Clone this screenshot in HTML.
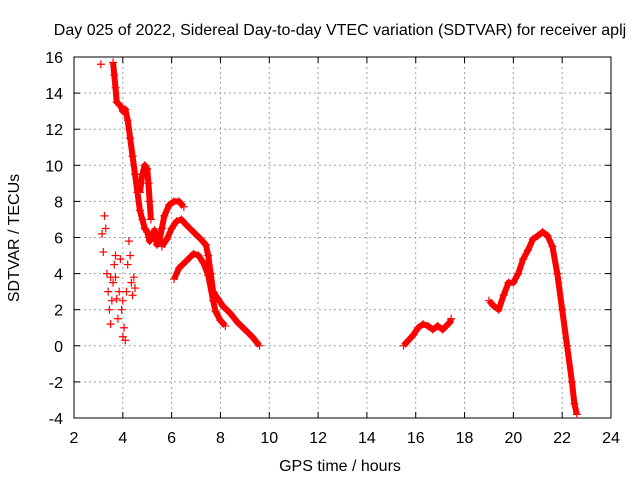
<!DOCTYPE html>
<html><head><meta charset="utf-8"><style>
body{margin:0;background:#fff}
svg{font-family:"Liberation Sans",sans-serif;font-size:16px}
</style></head><body>
<svg id="c" width="640" height="480"></svg>
<script>
const xTicks=[2,4,6,8,10,12,14,16,18,20,22,24];
const yTicks=[-4,-2,0,2,4,6,8,10,12,14,16];
const seriesMain=[[3.6,15.7],[3.65,15],[3.7,14.3],[3.75,13.5],[3.9,13.3],[4.0,13.0],[4.1,13.1],[4.2,12.5],[4.3,11.5],[4.4,10.5],[4.5,9.5],[4.6,8.5],[4.7,7.5],[4.8,7.0],[4.9,6.5],[5.0,6.3],[5.1,5.8],[5.2,6.1],[5.3,6.4],[5.4,5.6],[5.5,5.8],[5.6,6.5],[5.7,7.2],[5.9,7.8],[6.1,8.0],[6.3,8.0],[6.5,7.7]];
const seriesSpike=[[4.7,8.5],[4.8,9.5],[4.9,10.0],[5.0,9.8],[5.05,9.0],[5.1,8.0],[5.15,7.0]];
const seriesMid=[[5.6,5.5],[5.8,5.9],[6.0,6.5],[6.2,6.9],[6.4,7.0],[6.6,6.7],[6.9,6.3],[7.2,5.9],[7.4,5.6],[7.5,5.0],[7.6,4.0],[7.7,3.0],[7.9,2.6],[8.1,2.2],[8.4,1.8],[8.7,1.3],[9.0,0.9],[9.3,0.5],[9.6,0.0]];
const seriesLow=[[6.1,3.7],[6.3,4.3],[6.6,4.7],[6.9,5.1],[7.1,5.0],[7.3,4.6],[7.5,3.9],[7.7,2.5],[7.8,1.9],[8.0,1.4],[8.2,1.1]];
const seriesScatter=[[3.1,15.6],[3.15,6.2],[3.2,5.2],[3.25,7.2],[3.3,6.5],[3.35,4.0],[3.4,3.0],[3.45,2.0],[3.5,1.2],[3.55,2.5],[3.6,3.5],[3.65,4.5],[3.7,3.8],[3.75,2.6],[3.8,1.5],[3.85,3.0],[3.9,4.8],[3.95,2.0],[4.0,0.5],[4.05,1.0],[4.1,0.3],[4.15,3.0],[4.2,4.5],[4.25,5.8],[4.3,5.0],[4.35,3.5],[4.4,2.8],[4.45,3.8],[4.5,3.2],[3.5,3.8],[3.7,5.0],[4.0,2.5]];
const seriesR1=[[15.5,0],[15.7,0.3],[15.9,0.6],[16.1,1.0],[16.3,1.2],[16.5,1.1],[16.7,0.9],[16.9,1.1],[17.1,0.9],[17.4,1.3],[17.45,1.5]];
const seriesR2=[[19.0,2.5],[19.2,2.2],[19.4,2.0],[19.6,2.8],[19.8,3.5],[20.0,3.5],[20.2,4.0],[20.4,4.8],[20.6,5.3],[20.8,5.9],[21.0,6.1],[21.2,6.3],[21.4,6.1],[21.6,5.5],[21.8,4.0],[22.0,2.0],[22.2,0],[22.4,-2],[22.5,-3.2],[22.6,-3.8]];

const L=74,R=611,T=57,B=418;
const X=v=>L+(v-2)/22*(R-L);
const Y=v=>B-(v+4)/20*(B-T);
const s=document.getElementById('c');
const NS='http://www.w3.org/2000/svg';
function mk(t,a,txt){const e=document.createElementNS(NS,t);for(const k in a)e.setAttribute(k,a[k]);if(txt!=null)e.textContent=txt;s.appendChild(e);return e;}
xTicks.forEach(v=>{
 if(v>2&&v<24){const g=mk('line',{x1:X(v),x2:X(v),y1:T,y2:B,stroke:'#a0a0a0','stroke-dasharray':'2,3'});
 
 }
 const t=mk('text',{x:X(v),y:B+25,'text-anchor':'middle'},v);
 
 
 mk('line',{x1:X(v),x2:X(v),y1:B,y2:B-6,stroke:'#000'});
 mk('line',{x1:X(v),x2:X(v),y1:T,y2:T+6,stroke:'#000'});
});
yTicks.forEach(v=>{
 if(v>-4&&v<16){const g=mk('line',{x1:L,x2:R,y1:Y(v),y2:Y(v),stroke:'#a0a0a0','stroke-dasharray':'2,3'});
 
 }
 const t=mk('text',{x:L-11,y:Y(v)+6,'text-anchor':'end'},v);
 
 
 mk('line',{x1:L,x2:L+6,y1:Y(v),y2:Y(v),stroke:'#000'});
 mk('line',{x1:R,x2:R-6,y1:Y(v),y2:Y(v),stroke:'#000'});
});
const f=mk('rect',{x:L,y:T,width:R-L,height:B-T,fill:'none',stroke:'#000'});


function plot(arr,line,name){
 if(line){const p=mk('polyline',{points:arr.map(d=>X(d[0])+','+Y(d[1])).join(' '),fill:'none',stroke:'#f00','stroke-width':6,'stroke-linejoin':'round'});
 
 }
 arr.forEach(d=>{const x=X(d[0]),y=Y(d[1]);
  const m=mk('path',{d:`M${x-4},${y}H${x+4}M${x},${y-4}V${y+4}`,stroke:'#f00','stroke-width':1.2});
  
  });
}
plot(seriesMain,true,'main-series');
plot(seriesSpike,true,'spike-series');
plot(seriesMid,true,'mid-series');
plot(seriesLow,true,'low-series');
plot(seriesScatter,false,'scatter-series');
plot(seriesR1,true,'r1-series');
plot(seriesR2,true,'r2-series');
const ti=mk('text',{x:340,y:35,'text-anchor':'middle'},'Day 025 of 2022, Sidereal Day-to-day VTEC variation (SDTVAR) for receiver aplj');


const xt=mk('text',{x:340,y:471,'text-anchor':'middle'},'GPS time / hours');


const yt=mk('text',{x:0,y:0,'text-anchor':'middle',transform:'translate(19,238) rotate(-90)'},'SDTVAR / TECUs');


</script>
</body></html>
